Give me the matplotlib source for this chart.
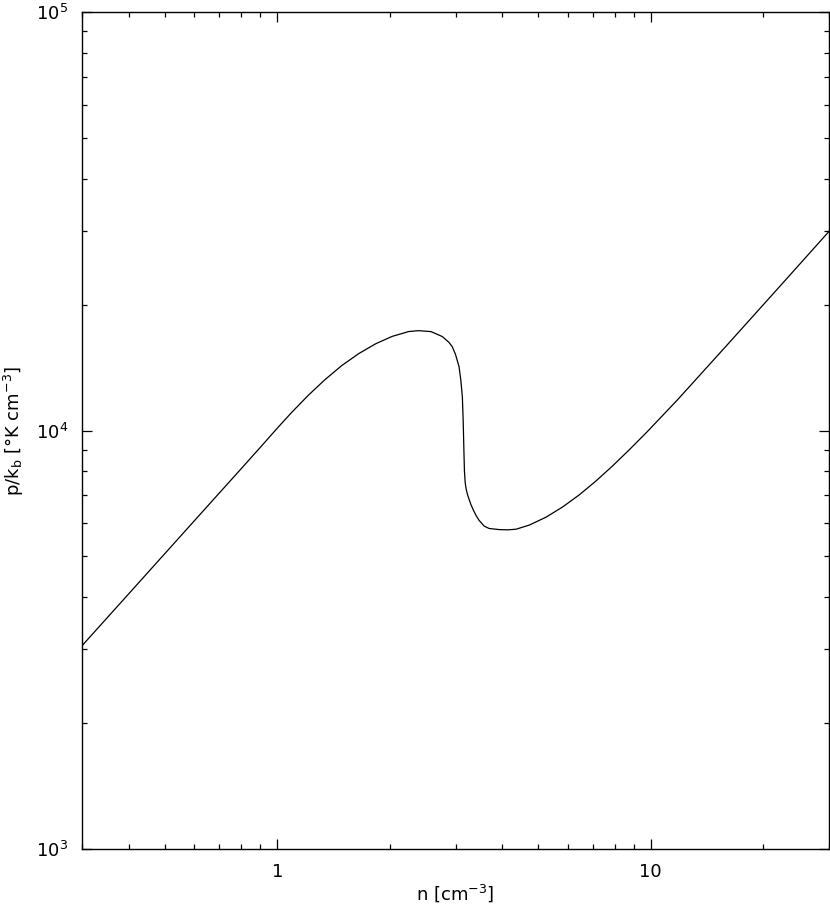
import matplotlib
matplotlib.use("Agg")
import matplotlib.pyplot as plt
from matplotlib.ticker import LogLocator, NullFormatter, FixedLocator, FixedFormatter

# Density n [cm^-3] and pressure p/k_b [K cm^-3]
n_vals = [0.30, 0.40, 0.50, 0.62, 0.80, 0.907, 1.006, 1.092, 1.211, 1.343,
          1.489, 1.651, 1.830, 2.029, 2.25, 2.39, 2.58, 2.765, 2.88, 2.94,
          3.00, 3.066, 3.10, 3.13, 3.145, 3.16, 3.17, 3.185, 3.205, 3.23,
          3.26, 3.30, 3.35, 3.41, 3.47, 3.58, 3.69, 3.93, 4.15, 4.36,
          4.73, 5.24, 5.81, 6.44, 7.14, 7.90, 8.78, 9.74, 11.75, 16.0,
          22.0, 30.0]
p_vals = [3060, 4070, 5080, 6290, 8100, 9180, 10190, 11040, 12140, 13240,
          14300, 15260, 16100, 16780, 17240, 17320, 17230, 16770, 16250, 15860,
          15200, 14210, 13200, 12000, 10600, 8900, 8000, 7500, 7230, 7030,
          6860, 6650, 6450, 6250, 6100, 5910, 5833, 5797, 5790, 5810,
          5944, 6206, 6568, 7022, 7581, 8229, 9013, 9894, 11800, 16000,
          21950, 29900]

xticks = [1, 10]
xticklabels = ["1", "10"]
yticks = [1e3, 1e4, 1e5]
yticklabels = [r"$10^3$", r"$10^4$", r"$10^5$"]

fig = plt.figure(figsize=(8.3, 9.1), dpi=100)
ax = fig.add_axes([82/830, 61/910, 747/830, 837/910])

ax.plot(n_vals, p_vals, color="black", lw=0.9, solid_joinstyle="round")

ax.set_xscale("log")
ax.set_yscale("log")
ax.set_xlim(0.3, 30)
ax.set_ylim(1e3, 1e5)

ax.xaxis.set_major_locator(FixedLocator(xticks))
ax.xaxis.set_major_formatter(FixedFormatter(xticklabels))
ax.xaxis.set_minor_locator(LogLocator(base=10, subs=range(2, 10)))
ax.xaxis.set_minor_formatter(NullFormatter())
ax.yaxis.set_major_locator(FixedLocator(yticks))
ax.yaxis.set_major_formatter(FixedFormatter(yticklabels))
ax.yaxis.set_minor_locator(LogLocator(base=10, subs=range(2, 10)))
ax.yaxis.set_minor_formatter(NullFormatter())

ax.tick_params(which="both", direction="in", top=True, right=True,
               labelsize=13, width=0.9, colors="black")
ax.tick_params(which="major", length=7.5, pad=10)
ax.tick_params(which="minor", length=3.8)
for s in ax.spines.values():
    s.set_linewidth(1.0)

ax.set_xlabel(r"n [cm$^{-3}$]", fontsize=13, labelpad=1)
ax.set_ylabel("p/k$_\\mathrm{b}$ [°K cm$^{-3}$]", fontsize=13, labelpad=7)

fig.savefig("out.png", dpi=100)
